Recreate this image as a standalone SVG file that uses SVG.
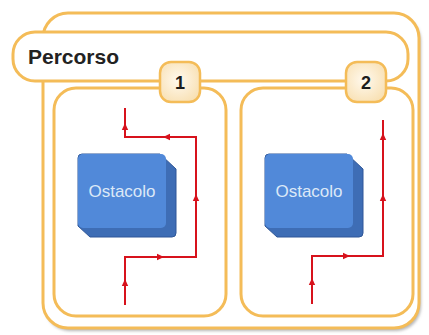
<svg xmlns="http://www.w3.org/2000/svg" xmlns:xlink="http://www.w3.org/1999/xlink" width="429" height="335" viewBox="0 0 429 335">
  <defs>
    <style>
      .frame { fill: #ffffff; stroke: #F4BC58; stroke-width: 3; }
      .badge { fill: url(#badgeFill); stroke: #F4BC58; stroke-width: 2.5; }
      .num { font-family: "Liberation Sans", Arial, sans-serif; font-weight: bold; font-size: 18px; fill: #1c1c1c; text-anchor: middle; }
      .title { font-family: "Liberation Sans", Arial, sans-serif; font-weight: bold; font-size: 21px; fill: #222222; }
      .blk-side { fill: #3E6DB5; stroke: #2F5798; stroke-width: 1; }
      .blk-face { fill: #5189D9; }
      .blk-text { font-family: "Liberation Sans", Arial, sans-serif; font-size: 17px; fill: #DCE8F7; text-anchor: middle; }
      .route { fill: none; stroke: #D7121C; stroke-width: 2; stroke-linejoin: miter; }
      .head { fill: #D7121C; }
    </style>
    <radialGradient id="badgeFill" cx="0.45" cy="0.45" r="0.65">
      <stop offset="0" stop-color="#FFF9EE"/>
      <stop offset="1" stop-color="#F8DFB0"/>
    </radialGradient>
    <filter id="soft" x="-5%" y="-5%" width="110%" height="110%">
      <feGaussianBlur stdDeviation="1.5"/>
    </filter>
    <!-- small arrowhead, tip pointing up at (0,-4) -->
    <path id="ah" class="head" d="M0,-4 L3.2,3 L-3.2,3 Z"/>
    <!-- obstacle block, front face at the origin -->
    <g id="block">
      <path class="blk-side" d="M4,0 H82 L98,15 V79 Q98,83 94,83 H12 L0,72 V4 Q0,0 4,0 Z"/>
      <rect class="blk-face" x="0" y="0" width="88" height="74" rx="5"/>
      <text class="blk-text" x="44" y="42.5">Ostacolo</text>
    </g>
  </defs>

  <!-- outer frame with soft drop shadow -->
  <g id="outer-frame">
    <rect x="45" y="16" width="376" height="315" rx="25" fill="#b5b5b5" filter="url(#soft)"/>
    <rect class="frame" x="43" y="13" width="376" height="315" rx="25"/>
  </g>

  <!-- title band -->
  <g id="percorso">
    <rect class="frame" x="13" y="32" width="395" height="49" rx="22"/>
    <text class="title" x="28" y="63.5">Percorso</text>
  </g>

  <!-- case 1 -->
  <g id="panel-1">
    <rect class="frame" x="54" y="88" width="172" height="228" rx="22"/>
  </g>
  <g id="obstacle-1" transform="translate(78,154)">
    <use xlink:href="#block"/>
  </g>
  <g id="badge-1">
    <rect class="badge" x="160" y="62" width="40" height="40" rx="11"/>
    <text class="num" x="180" y="89">1</text>
  </g>

  <!-- case 2 -->
  <g id="panel-2">
    <rect class="frame" x="241" y="88" width="172" height="228" rx="22"/>
  </g>
  <g id="obstacle-2" transform="translate(265,154)">
    <use xlink:href="#block"/>
  </g>
  <g id="badge-2">
    <rect class="badge" x="346" y="62" width="40" height="40" rx="11"/>
    <text class="num" x="366" y="89">2</text>
  </g>

  <!-- routes -->
  <g id="connectors">
    <path class="route" d="M125,305 V257 H196 V137 H125 V108"/>
    <use xlink:href="#ah" transform="translate(125,283)"/>
    <use xlink:href="#ah" transform="translate(160,257) rotate(90)"/>
    <use xlink:href="#ah" transform="translate(196,198)"/>
    <use xlink:href="#ah" transform="translate(167,137) rotate(-90)"/>
    <use xlink:href="#ah" transform="translate(125,127)"/>

    <path class="route" d="M312,304 V256 H383 V120"/>
    <use xlink:href="#ah" transform="translate(312,282)"/>
    <use xlink:href="#ah" transform="translate(346,256) rotate(90)"/>
    <use xlink:href="#ah" transform="translate(383,198)"/>
    <use xlink:href="#ah" transform="translate(383,137)"/>
  </g>
</svg>
